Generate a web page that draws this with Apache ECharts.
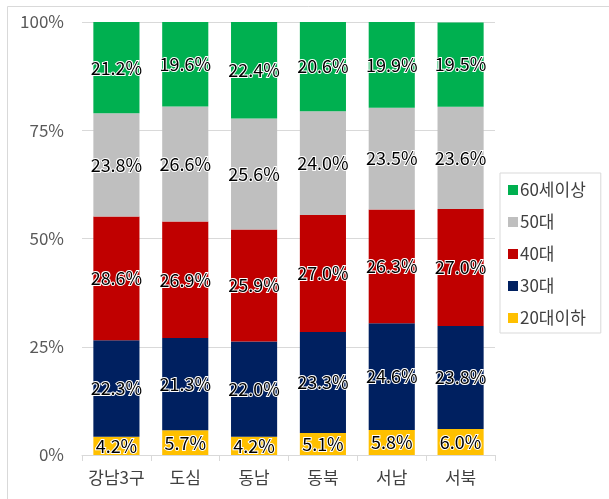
<!DOCTYPE html>
<html>
<head>
<meta charset="utf-8">
<script src="https://cdn.jsdelivr.net/npm/echarts@6/dist/echarts.min.js"></script>
<style>
  html, body { margin: 0; padding: 0; background: #fff; }
  #chart { width: 609px; height: 499px; }
</style>
</head>
<body>
<div id="chart"></div>
<script>
// Regions (x axis)
const regions = ['강남3구', '도심', '동남', '동북', '서남', '서북'];

// Age-group shares per region, in percent (stacked bottom to top)
const age20under = [4.2, 5.7, 4.2, 5.1, 5.8, 6.0];
const age30 = [22.3, 21.3, 22.0, 23.3, 24.6, 23.8];
const age40 = [28.6, 26.9, 25.9, 27.0, 26.3, 27.0];
const age50 = [23.8, 26.6, 25.6, 24.0, 23.5, 23.6];
const age60plus = [21.2, 19.6, 22.4, 20.6, 19.9, 19.5];

const groupNames = ['20대이하', '30대', '40대', '50대', '60세이상'];
const groupValues = [age20under, age30, age40, age50, age60plus];
const groupColors = ['#FFC000', '#002060', '#C00000', '#BFBFBF', '#00B050'];

// Y axis tick values
const yTicks = [0, 25, 50, 75, 100];

const FONT = '"Noto Sans CJK KR", "Noto Sans", sans-serif';

const series = groupNames.map((name, i) => ({
  name: name,
  type: 'bar',
  stack: 'total',
  barWidth: '67%',
  data: groupValues[i],
  itemStyle: { color: groupColors[i] },
  label: {
    show: true,
    position: 'inside',
    formatter: p => p.value.toFixed(1) + '%',
    fontFamily: FONT,
    fontSize: 18,
    color: '#000',
    textBorderColor: '#fff',
    textBorderWidth: 2
  }
}));

const chart = echarts.init(document.getElementById('chart'), null, { renderer: 'canvas' });
chart.setOption({
  animation: false,
  backgroundColor: '#fff',
  graphic: [{
    type: 'rect',
    shape: { x: 7.5, y: 6.5, width: 620, height: 520 },
    style: { fill: 'none', stroke: '#d9d9d9', lineWidth: 1 },
    silent: true
  }],
  grid: { left: 82, right: 114, top: 22, bottom: 44, containLabel: false },
  legend: {
    orient: 'vertical',
    left: 500,
    top: 173,
    data: groupNames.slice().reverse(),
    icon: 'rect',
    itemWidth: 10,
    itemHeight: 10,
    itemGap: 12,
    padding: [7, 15, 5, 8],
    borderColor: '#d9d9d9',
    borderWidth: 1,
    textStyle: { fontFamily: FONT, fontSize: 17, color: '#404040', lineHeight: 20, padding: [0, 0, 0, -3] }
  },
  xAxis: {
    type: 'category',
    data: regions,
    axisLine: { lineStyle: { color: '#d9d9d9' } },
    axisTick: { show: true, length: 6, lineStyle: { color: '#d9d9d9' } },
    axisLabel: { interval: 0, fontFamily: FONT, fontSize: 17, color: '#404040', margin: 14 }
  },
  yAxis: {
    type: 'value',
    min: yTicks[0],
    max: yTicks[yTicks.length - 1],
    interval: 25,
    axisLine: { show: false },
    axisTick: { show: false },
    axisLabel: { fontFamily: FONT, fontSize: 17, color: '#595959', margin: 18, formatter: v => v + '%' },
    splitLine: { lineStyle: { color: '#d9d9d9', width: 1 } }
  },
  series: series
});
</script>
</body>
</html>
